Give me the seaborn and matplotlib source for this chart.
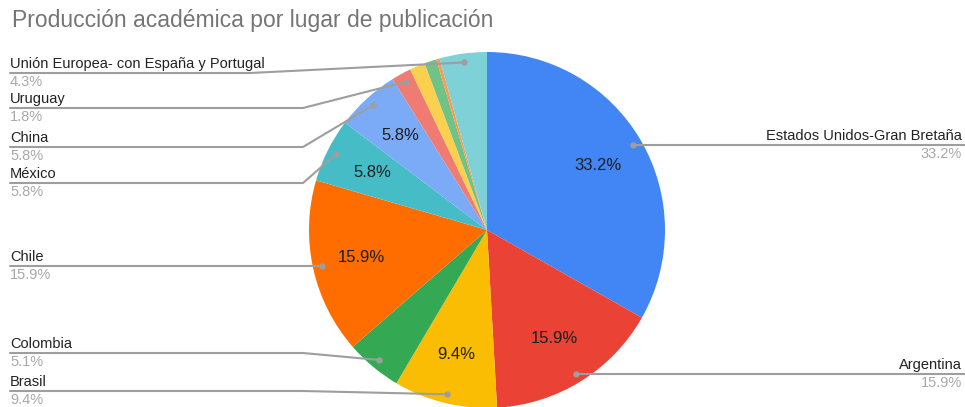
import numpy as np
import matplotlib
matplotlib.use("Agg")
import matplotlib.pyplot as plt
import seaborn as sns

paises = ['Estados Unidos-Gran Bretaña', 'Argentina', 'Brasil', 'Colombia', 'Chile',
          'México', 'China', 'Uruguay', 'Otro 1', 'Otro 2', 'Otro 3',
          'Unión Europea- con España y Portugal']
porcentajes = [33.2, 15.9, 9.4, 5.1, 15.9, 5.8, 5.8, 1.8, 1.4, 1.1, 0.3, 4.3]
colores = ['#4285F4', '#EA4335', '#FBBC04', '#34A853', '#FF6D01', '#46BDC6',
           '#7BAAF7', '#F07B72', '#FCD04F', '#71C287', '#FF994D', '#7ED1D7']

# label placement (pixel y of the leader line), side of the chart
etiquetas = {
    'Estados Unidos-Gran Bretaña': ('right', None),
    'Argentina': ('right', None),
    'Unión Europea- con España y Portugal': ('left', 73),
    'Uruguay': ('left', 108),
    'China': ('left', 147),
    'México': ('left', 183),
    'Chile': ('left', None),
    'Colombia': ('left', 353),
    'Brasil': ('left', 391),
}

sns.set_theme(style="white")
plt.rcParams['font.family'] = ['Liberation Sans', 'DejaVu Sans']

W, H = 965, 407
fig = plt.figure(figsize=(W / 100, H / 100), dpi=100)

# pie geometry in pixels
cx, cy, R = 487, 230, 178
ax = fig.add_axes([(cx - R) / W, (H - cy - R) / H, 2 * R / W, 2 * R / H])
ax.pie(porcentajes, colors=sns.color_palette(colores), startangle=90, counterclock=False,
       autopct=lambda p: f'{p:.1f}%' if p > 5.5 else '', pctdistance=0.72,
       wedgeprops=dict(linewidth=0), textprops=dict(fontsize=12, color='#1e1e1e'))
ax.set_xlim(-1, 1)
ax.set_ylim(-1, 1)
ax.set_aspect('equal')
ax.axis('off')

# overlay for leader lines and labels
ov = fig.add_axes([0, 0, 1, 1], zorder=5)
ov.set_xlim(0, W)
ov.set_ylim(H, 0)
ov.axis('off')

gris = '#9e9e9e'
acum = 0
for nombre, p in zip(paises, porcentajes):
    mid = 90 - (acum + p / 2) * 3.6
    acum += p
    if nombre not in etiquetas:
        continue
    lado, ly = etiquetas[nombre]
    dx = cx + 0.95 * R * np.cos(np.radians(mid))
    dy = cy - 0.95 * R * np.sin(np.radians(mid))
    if ly is None:
        ly = dy
    ov.plot(dx, dy, 'o', ms=3.5, color=gris, zorder=6)
    if lado == 'right':
        ov.plot([dx, W], [dy, dy], color=gris, lw=1.5)
        ov.text(W - 3, ly - 2, nombre, ha='right', va='bottom', fontsize=10.5, color='#222222')
        ov.text(W - 3, ly + 2, f'{p:.1f}%', ha='right', va='top', fontsize=10.5, color='#a8a8a8')
    else:
        if abs(ly - dy) < 1:
            ov.plot([10, dx], [ly, dy], color=gris, lw=1.5)
        else:
            codo = 250 if nombre.startswith('Unión') else 303
            ov.plot([10, codo, dx], [ly, ly, dy], color=gris, lw=1.5)
        ov.text(10, ly - 2, nombre, ha='left', va='bottom', fontsize=10.5, color='#222222')
        ov.text(10, ly + 2, f'{p:.1f}%', ha='left', va='top', fontsize=10.5, color='#a8a8a8')

fig.text(12 / W, 1 - 20 / H, 'Producción académica por lugar de publicación',
         ha='left', va='center', fontsize=16.5, color='#757575')

fig.savefig('out.png', dpi=100)
